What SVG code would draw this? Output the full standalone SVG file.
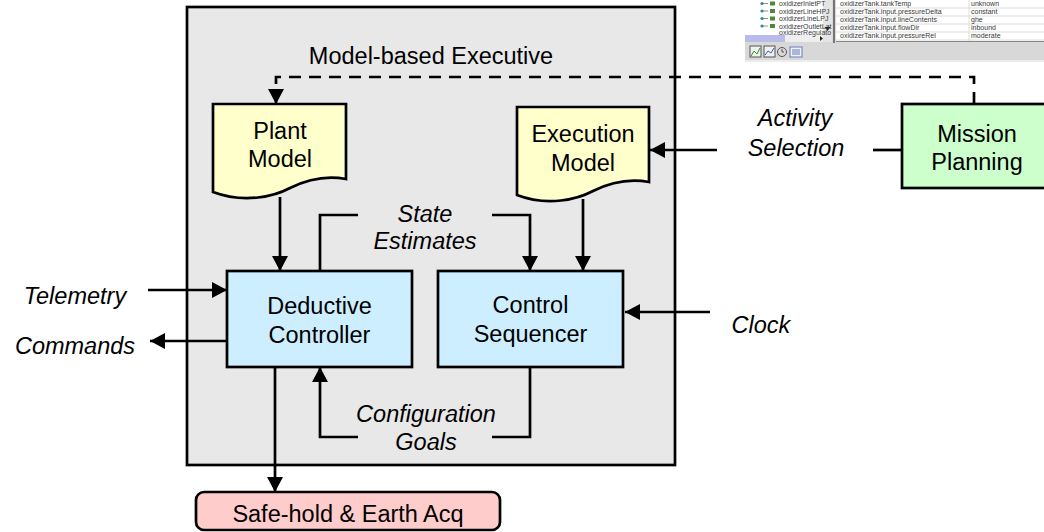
<svg xmlns="http://www.w3.org/2000/svg" width="1044" height="532" viewBox="0 0 1044 532">
  <style>
    .box { stroke: #000; stroke-width: 2.7; }
    .exec { fill: #e8e8e8; }
    .doc { fill: #ffffcc; }
    .proc { fill: #cceeff; }
    .plan { fill: #ccffcc; }
    .safe { fill: #ffcccc; }
    .lbl { font-family: "Liberation Sans", Arial, sans-serif; font-size: 23.5px; fill: #000; text-anchor: middle; }
    .it { font-style: italic; }
    .wire { fill: none; stroke: #000; stroke-width: 2.7; }
    .dash { stroke-dasharray: 12 8; }
    .ui { font-family: "Liberation Sans", Arial, sans-serif; font-size: 7px; fill: #3a3a3a; }
  </style>
  <defs>
    <marker id="arrow" viewBox="0 0 15 16" refX="15" refY="8" markerWidth="15" markerHeight="16" markerUnits="userSpaceOnUse" orient="auto">
      <path d="M0,0 L15,8 L0,16 Z" fill="#000"/>
    </marker>
  </defs>

  <rect width="1044" height="532" fill="#fff"/>

  <!-- application window fragment, top right -->
  <g id="app-window">
    <rect x="745" y="0" width="299" height="62" fill="#d8d8d8"/>
    <rect x="745" y="0" width="78" height="35" fill="#fff"/>
    <rect x="823" y="0" width="9" height="42" fill="#e4e4e4"/>
    <path d="M824.5,27 h6 l-3,4 z" fill="#222"/>
    <rect x="745" y="35" width="40" height="7" fill="#b9bce8"/>
    <rect x="785" y="35" width="38" height="7" fill="#eeeeee"/>
    <path d="M820,36 v5 l3,-2.5 z" fill="#222"/>
    <line x1="834" y1="0" x2="834" y2="43" stroke="#555" stroke-width="1.5"/>
    <rect x="836" y="0" width="208" height="41" fill="#fff"/>
    <g stroke="#dcdcdc" stroke-width="1">
      <line x1="836" y1="8" x2="1044" y2="8"/>
      <line x1="836" y1="16" x2="1044" y2="16"/>
      <line x1="836" y1="24" x2="1044" y2="24"/>
      <line x1="836" y1="32" x2="1044" y2="32"/>
      <line x1="836" y1="40" x2="1044" y2="40"/>
      <line x1="969" y1="0" x2="969" y2="41"/>
    </g>
    <line x1="836" y1="41.5" x2="1044" y2="41.5" stroke="#888" stroke-width="1"/>
    <g class="ui">
      <text x="779" y="6">oxidizerInletPT</text>
      <text x="779" y="13.5">oxidizerLineHPJ</text>
      <text x="779" y="21">oxidizerLineLPJ</text>
      <text x="779" y="28.5">oxidizerOutletLat</text>
      <text x="779" y="35">oxidizerRegulato</text>
      <text x="840" y="6">oxidizerTank.tankTemp</text>
      <text x="840" y="14">oxidizerTank.input.pressureDelta</text>
      <text x="840" y="22">oxidizerTank.input.lineContents</text>
      <text x="840" y="30">oxidizerTank.input.flowDir</text>
      <text x="840" y="38">oxidizerTank.input.pressureRel</text>
      <text x="971" y="6">unknown</text>
      <text x="971" y="14">constant</text>
      <text x="971" y="22">ghe</text>
      <text x="971" y="30">inbound</text>
      <text x="971" y="38">moderate</text>
    </g>
    <!-- tree expanders and item icons -->
    <g stroke="#777" stroke-width="0.8" fill="none">
      <path d="M763,3.5 h5 M763,11 h5 M763,18.5 h5 M763,26 h5"/>
    </g>
    <g fill="#2e8a8a">
      <circle cx="762" cy="3.5" r="1.6"/>
      <circle cx="762" cy="11" r="1.6"/>
      <circle cx="762" cy="18.5" r="1.6"/>
      <circle cx="762" cy="26" r="1.6"/>
    </g>
    <g fill="#4a8a3a">
      <rect x="770" y="1.5" width="5" height="4"/>
      <rect x="770" y="9" width="5" height="4"/>
      <rect x="770" y="16.5" width="5" height="4"/>
      <rect x="770" y="24" width="5" height="4"/>
    </g>
    <g fill="none" stroke="#555" stroke-width="1">
      <rect x="750" y="46" width="11" height="11" fill="#f0f0f0"/>
      <path d="M751,56 l3,-5 l3,3 l3,-6" stroke="#2a9a2a"/>
      <rect x="764" y="46" width="11" height="11" fill="#f0f0f0"/>
      <path d="M765,55 l3,-4 l3,2 l3,-5" stroke="#3a5ab8"/>
      <circle cx="782" cy="52" r="4.5"/>
      <path d="M782,49 v3 h2"/>
      <rect x="790" y="47" width="12" height="10" fill="#eef2ff" stroke="#6a7ab8"/>
      <path d="M792,50 h8 M792,52 h8 M792,54 h8" stroke="#6a7ab8"/>
    </g>
    <rect x="745" y="60" width="299" height="2" fill="#ececec"/>
  </g>

  <!-- executive frame -->
  <g id="executive">
    <rect class="box exec" x="187" y="7" width="488" height="458"/>
    <text class="lbl" x="431" y="64">Model-based Executive</text>
  </g>

  <g id="plant-model">
    <path class="box doc" d="M213,104 H346 V179 C330,176 310,178 290,188 C275,196 245,204 213,192 Z"/>
    <text class="lbl" x="280" y="139">Plant</text>
    <text class="lbl" x="280" y="167">Model</text>
  </g>

  <g id="execution-model">
    <path class="box doc" d="M517,107 H649 V182 C633,179 613,181 593,191 C578,199 548,207 517,195 Z"/>
    <text class="lbl" x="583" y="142">Execution</text>
    <text class="lbl" x="583" y="171">Model</text>
  </g>

  <g id="deductive-controller">
    <rect class="box proc" x="227" y="271" width="185" height="96"/>
    <text class="lbl" x="319.5" y="314">Deductive</text>
    <text class="lbl" x="319.5" y="343">Controller</text>
  </g>

  <g id="control-sequencer">
    <rect class="box proc" x="438" y="271" width="185" height="96"/>
    <text class="lbl" x="530.5" y="313">Control</text>
    <text class="lbl" x="530.5" y="342">Sequencer</text>
  </g>

  <g id="mission-planning">
    <rect class="box plan" x="902" y="104" width="152" height="84"/>
    <text class="lbl" x="977" y="142">Mission</text>
    <text class="lbl" x="977" y="170">Planning</text>
  </g>

  <g id="safe-hold">
    <rect class="box safe" x="196" y="492" width="304" height="38" rx="8" ry="8"/>
    <text class="lbl" x="348" y="522">Safe-hold &amp; Earth Acq</text>
  </g>

  <!-- connectors -->
  <g id="connectors">
    <path class="wire dash" d="M974,104 V77 H276 V104" marker-end="url(#arrow)"/>
    <path class="wire" d="M280,197 V271" marker-end="url(#arrow)"/>
    <path class="wire" d="M583,199 V271" marker-end="url(#arrow)"/>
    <path class="wire" d="M148,290 H227" marker-end="url(#arrow)"/>
    <path class="wire" d="M227,341 H150" marker-end="url(#arrow)"/>
    <path class="wire" d="M320,271 V215 H358"/>
    <path class="wire" d="M492,215 H530 V271" marker-end="url(#arrow)"/>
    <path class="wire" d="M902,150 H873"/>
    <path class="wire" d="M717,150 H650" marker-end="url(#arrow)"/>
    <path class="wire" d="M710,312 H625" marker-end="url(#arrow)"/>
    <path class="wire" d="M358,437 H320 V367" marker-end="url(#arrow)"/>
    <path class="wire" d="M492,437 H530 V367"/>
    <path class="wire" d="M275,367 V492" marker-end="url(#arrow)"/>
  </g>

  <!-- flow labels -->
  <g id="flow-labels">
    <text class="lbl it" x="75" y="304">Telemetry</text>
    <text class="lbl it" x="75" y="354">Commands</text>
    <text class="lbl it" x="425" y="222">State</text>
    <text class="lbl it" x="425" y="249">Estimates</text>
    <text class="lbl it" x="795" y="126">Activity</text>
    <text class="lbl it" x="796" y="156">Selection</text>
    <text class="lbl it" x="761" y="333">Clock</text>
    <text class="lbl it" x="426" y="422">Configuration</text>
    <text class="lbl it" x="426" y="450">Goals</text>
  </g>
</svg>
